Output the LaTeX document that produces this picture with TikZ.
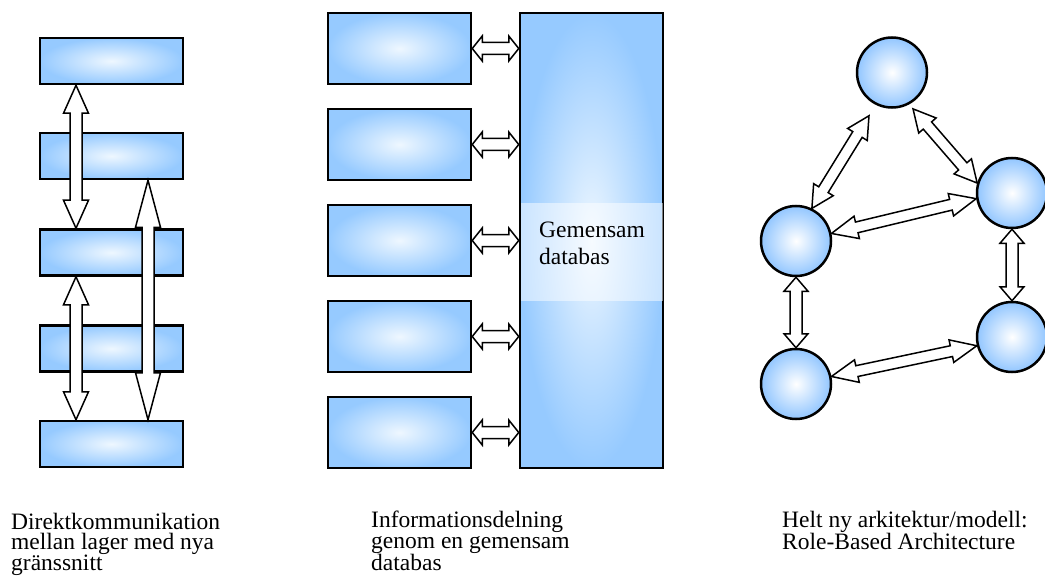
\documentclass[tikz,border=0pt]{standalone}
\usepackage{fontspec}
\setmainfont{Liberation Serif}
\usetikzlibrary{calc}
\definecolor{boxblue}{RGB}{150,202,255}
\definecolor{boxlight}{RGB}{238,247,255}
\definecolor{ballblue}{RGB}{146,198,255}
\newcommand\dblarrow[5]{%
  \draw[arr] (#1) -- ($(#1)!#5!(#2)!#4!90:(#2)$) -- ($(#1)!#5!(#2)!#3!90:(#2)$)
    -- ($(#2)!#5!(#1)!#3!-90:(#1)$) -- ($(#2)!#5!(#1)!#4!-90:(#1)$) -- (#2)
    -- ($(#2)!#5!(#1)!#4!90:(#1)$) -- ($(#2)!#5!(#1)!#3!90:(#1)$)
    -- ($(#1)!#5!(#2)!#3!-90:(#2)$) -- ($(#1)!#5!(#2)!#4!-90:(#2)$) -- cycle;}
\tikzset{
  arr/.style={draw=black, fill=white, line width=1.5pt, line join=miter},
  lbox/.style={rectangle, draw=black, line width=2.5pt, inner sep=0pt,
    minimum width=143pt, minimum height=46pt, inner color=boxlight, outer color=boxblue},
  mbox/.style={lbox, minimum height=71pt},
  dbbox/.style={lbox, minimum height=455pt},
  ball/.style={circle, draw=black, line width=2.5pt, inner sep=0pt,
    minimum size=70pt, inner color=white, outer color=ballblue},
  captext/.style={anchor=base west, align=left, inner sep=0pt,
    font=\fontsize{23.5}{20.75}\selectfont},
  dbtext/.style={anchor=base west, align=left, inner sep=0pt,
    font=\fontsize{23.5}{27}\selectfont}
}
\begin{document}
\begin{tikzpicture}[x=1pt,y=-1pt]
\clip (0,0) rectangle (1045,583);
\fill[white] (0,0) rectangle (1045,583);
% ---------- left column ----------
\node[lbox] (b1) at (111.5,61) {};
\node[lbox] (b2) at (111.5,156) {};
\node[lbox] (b3) at (111.5,252.5) {};
\node[lbox] (b4) at (111.5,348.5) {};
\node[lbox] (b5) at (111.5,444) {};
\coordinate (x76) at (76,0);
\coordinate (x148) at (148,0);
\coordinate (a1s) at (b1.south -| x76);
\coordinate (a1e) at (b3.north -| x76);
\coordinate (a2s) at (b3.south -| x76);
\coordinate (a2e) at (b5.north -| x76);
\coordinate (a3s) at (b2.south -| x148);
\coordinate (a3e) at (b5.north -| x148);
\dblarrow{a1s}{a1e}{6pt}{12.5pt}{28pt}
\dblarrow{a2s}{a2e}{6pt}{12.5pt}{28pt}
\dblarrow{a3s}{a3e}{6pt}{12.5pt}{47pt}
% ---------- middle column ----------
\node[dbbox] (db) at (591.5,240.5) {};
\fill[white, opacity=0.5] (520.5,203) rectangle (662.5,301);
\node[dbtext] (dbt) at (539,264) {Gemensam\\databas};
\foreach \i in {1,...,5}{
  \node[mbox] (m\i) at (399.5,{48.5+96*(\i-1)}) {};
  \coordinate (d\i) at (db.west |- m\i.east);
  \coordinate (e\i) at (m\i.east);
  \dblarrow{e\i}{d\i}{6pt}{12.5pt}{10pt}
}
% ---------- right graph ----------
\node[ball] (T) at (892,72.5) {};
\node[ball] (L) at (796,241) {};
\node[ball] (BL) at (796,384) {};
\node[ball] (RU) at (1012,193) {};
\node[ball] (RL) at (1012,337) {};
\coordinate (r1a) at (L.64);
\coordinate (r1b) at ([shift={(242:49pt)}]T.center);
\coordinate (r2a) at ([shift={(300:42pt)}]T.center);
\coordinate (r2b) at (RU.164);
\coordinate (r3a) at (L.12);
\coordinate (r3b) at (RU.189);
\coordinate (r4a) at (BL.12);
\coordinate (r4b) at (RL.194);
\coordinate (r5a) at (L.south);
\coordinate (r5b) at (BL.north);
\coordinate (r6a) at (RU.south);
\coordinate (r6b) at (RL.north);
\dblarrow{r1a}{r1b}{5.5pt}{11.5pt}{22pt}
\dblarrow{r2a}{r2b}{5.5pt}{11.5pt}{22pt}
\dblarrow{r3a}{r3b}{5.5pt}{11.5pt}{26pt}
\dblarrow{r4a}{r4b}{5.5pt}{11.5pt}{26pt}
\dblarrow{r5a}{r5b}{6pt}{12pt}{14pt}
\dblarrow{r6a}{r6b}{6pt}{12pt}{14pt}
% ---------- captions (anchored at the baseline of their last line) ----------
\node[captext] (c1) at (11,570.5) {Direktkommunikation\\mellan lager med nya\\gränssnitt};
\node[captext] (c2) at (371,570.5) {Informationsdelning\\genom en gemensam\\databas};
\node[captext] (c3) at (782,549.5) {Helt ny arkitektur/modell:\\Role-Based Architecture};
\end{tikzpicture}
\end{document}
